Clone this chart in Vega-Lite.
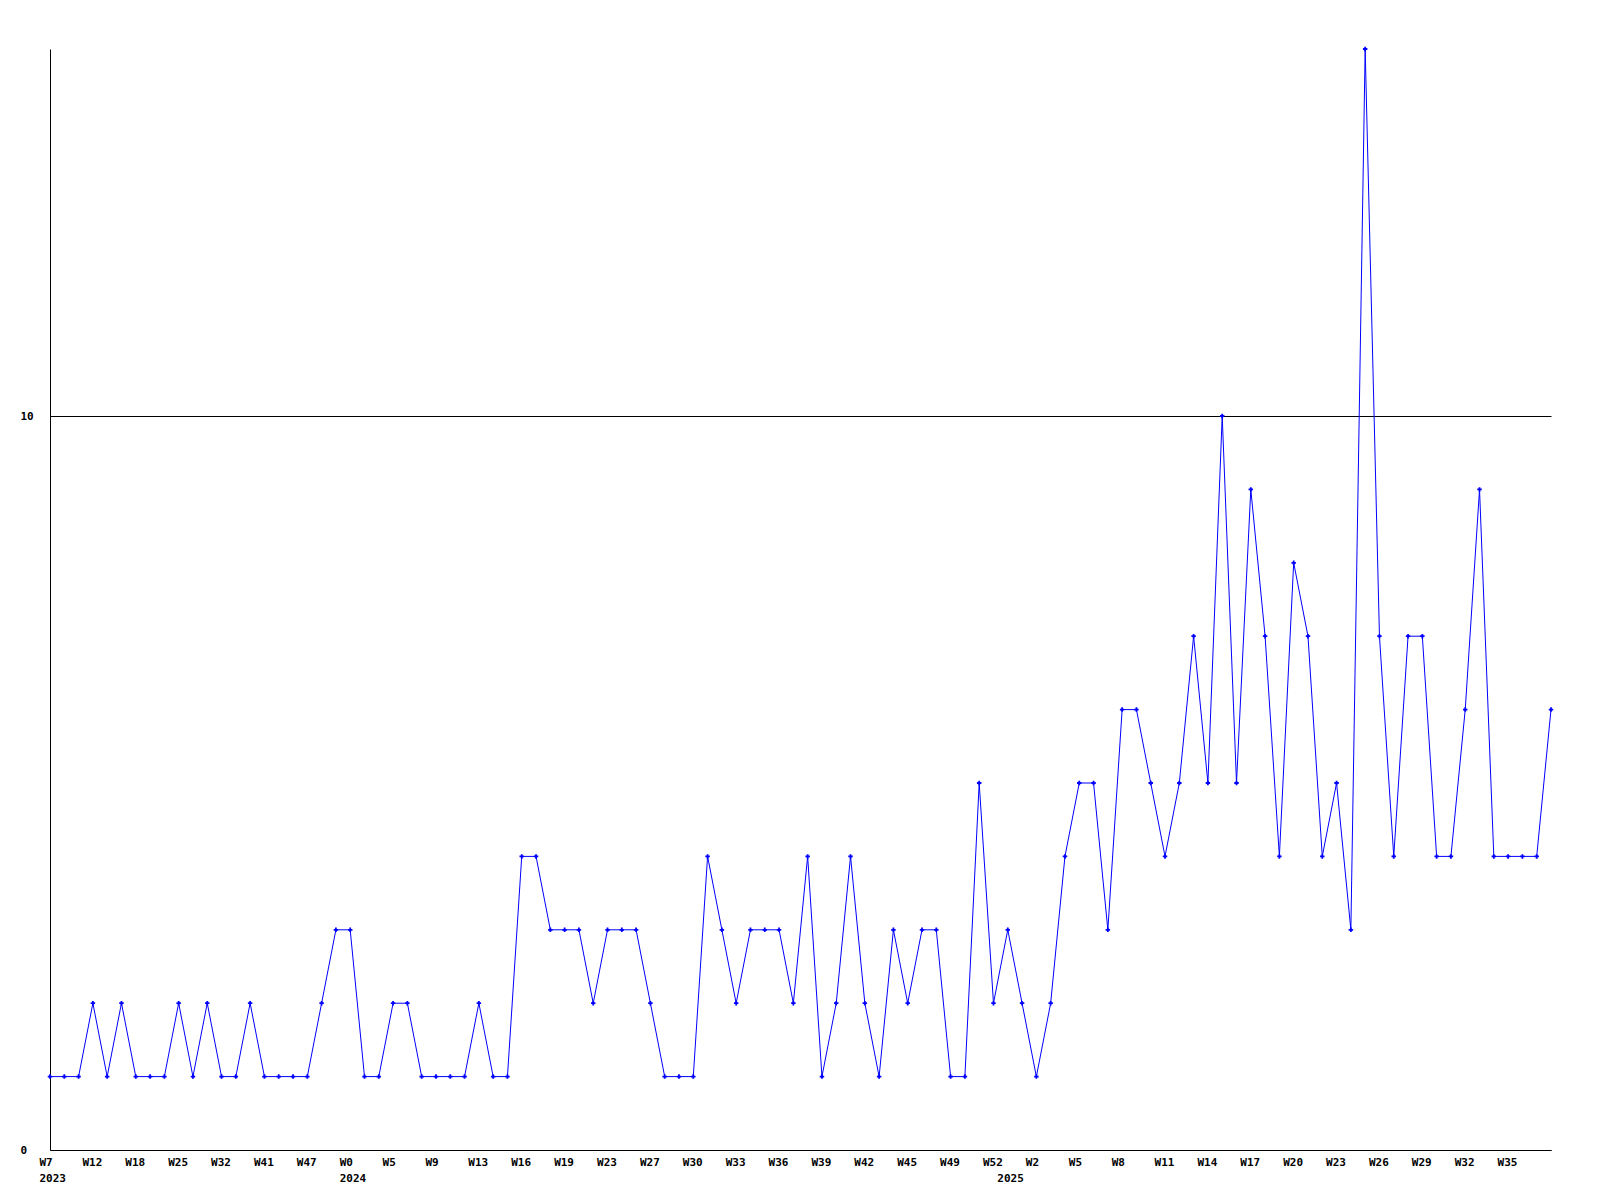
{
  "$schema": "https://vega.github.io/schema/vega-lite/v6.json",
  "width": 1501,
  "height": 1101,
  "autosize": {"type": "none"},
  "padding": {"left": 50, "top": 49, "right": 49, "bottom": 50},
  "background": "white",
  "config": {
    "view": {"stroke": null},
    "axis": {
      "labelFont": "DejaVu Sans Mono",
      "labelFontWeight": "bold",
      "labelFontSize": 11,
      "labelColor": "black",
      "domainColor": "black",
      "domainWidth": 1
    }
  },
  "data": {
    "values": [
      {"week": "2023-W07", "count": 1},
      {"week": "2023-W09", "count": 1},
      {"week": "2023-W10", "count": 1},
      {"week": "2023-W12", "count": 2},
      {"week": "2023-W14", "count": 1},
      {"week": "2023-W16", "count": 2},
      {"week": "2023-W18", "count": 1},
      {"week": "2023-W20", "count": 1},
      {"week": "2023-W22", "count": 1},
      {"week": "2023-W25", "count": 2},
      {"week": "2023-W27", "count": 1},
      {"week": "2023-W29", "count": 2},
      {"week": "2023-W32", "count": 1},
      {"week": "2023-W35", "count": 1},
      {"week": "2023-W38", "count": 2},
      {"week": "2023-W41", "count": 1},
      {"week": "2023-W43", "count": 1},
      {"week": "2023-W45", "count": 1},
      {"week": "2023-W47", "count": 1},
      {"week": "2023-W49", "count": 2},
      {"week": "2023-W51", "count": 3},
      {"week": "2024-W00", "count": 3},
      {"week": "2024-W02", "count": 1},
      {"week": "2024-W03", "count": 1},
      {"week": "2024-W05", "count": 2},
      {"week": "2024-W06", "count": 2},
      {"week": "2024-W08", "count": 1},
      {"week": "2024-W09", "count": 1},
      {"week": "2024-W11", "count": 1},
      {"week": "2024-W12", "count": 1},
      {"week": "2024-W13", "count": 2},
      {"week": "2024-W14", "count": 1},
      {"week": "2024-W15", "count": 1},
      {"week": "2024-W16", "count": 4},
      {"week": "2024-W17", "count": 4},
      {"week": "2024-W18", "count": 3},
      {"week": "2024-W19", "count": 3},
      {"week": "2024-W20", "count": 3},
      {"week": "2024-W22", "count": 2},
      {"week": "2024-W23", "count": 3},
      {"week": "2024-W25", "count": 3},
      {"week": "2024-W26", "count": 3},
      {"week": "2024-W27", "count": 2},
      {"week": "2024-W28", "count": 1},
      {"week": "2024-W29", "count": 1},
      {"week": "2024-W30", "count": 1},
      {"week": "2024-W31", "count": 4},
      {"week": "2024-W32", "count": 3},
      {"week": "2024-W33", "count": 2},
      {"week": "2024-W34", "count": 3},
      {"week": "2024-W35", "count": 3},
      {"week": "2024-W36", "count": 3},
      {"week": "2024-W37", "count": 2},
      {"week": "2024-W38", "count": 4},
      {"week": "2024-W39", "count": 1},
      {"week": "2024-W40", "count": 2},
      {"week": "2024-W41", "count": 4},
      {"week": "2024-W42", "count": 2},
      {"week": "2024-W43", "count": 1},
      {"week": "2024-W44", "count": 3},
      {"week": "2024-W45", "count": 2},
      {"week": "2024-W47", "count": 3},
      {"week": "2024-W48", "count": 3},
      {"week": "2024-W49", "count": 1},
      {"week": "2024-W50", "count": 1},
      {"week": "2024-W51", "count": 5},
      {"week": "2024-W52", "count": 2},
      {"week": "2025-W00", "count": 3},
      {"week": "2025-W01", "count": 2},
      {"week": "2025-W02", "count": 1},
      {"week": "2025-W03", "count": 2},
      {"week": "2025-W04", "count": 4},
      {"week": "2025-W05", "count": 5},
      {"week": "2025-W06", "count": 5},
      {"week": "2025-W07", "count": 3},
      {"week": "2025-W08", "count": 6},
      {"week": "2025-W09", "count": 6},
      {"week": "2025-W10", "count": 5},
      {"week": "2025-W11", "count": 4},
      {"week": "2025-W12", "count": 5},
      {"week": "2025-W13", "count": 7},
      {"week": "2025-W14", "count": 5},
      {"week": "2025-W15", "count": 10},
      {"week": "2025-W16", "count": 5},
      {"week": "2025-W17", "count": 9},
      {"week": "2025-W18", "count": 7},
      {"week": "2025-W19", "count": 4},
      {"week": "2025-W20", "count": 8},
      {"week": "2025-W21", "count": 7},
      {"week": "2025-W22", "count": 4},
      {"week": "2025-W23", "count": 5},
      {"week": "2025-W24", "count": 3},
      {"week": "2025-W25", "count": 15},
      {"week": "2025-W26", "count": 7},
      {"week": "2025-W27", "count": 4},
      {"week": "2025-W28", "count": 7},
      {"week": "2025-W29", "count": 7},
      {"week": "2025-W30", "count": 4},
      {"week": "2025-W31", "count": 4},
      {"week": "2025-W32", "count": 6},
      {"week": "2025-W33", "count": 9},
      {"week": "2025-W34", "count": 4},
      {"week": "2025-W35", "count": 4},
      {"week": "2025-W36", "count": 4},
      {"week": "2025-W37", "count": 4},
      {"week": "2025-W38", "count": 6}
    ]
  },
  "encoding": {
    "x": {
      "field": "week",
      "type": "ordinal",
      "sort": null,
      "scale": {"type": "point", "padding": 0},
      "axis": {
        "title": null,
        "values": ["2023-W07", "2023-W12", "2023-W18", "2023-W25", "2023-W32", "2023-W41", "2023-W47", "2024-W00", "2024-W05", "2024-W09", "2024-W13", "2024-W16", "2024-W19", "2024-W23", "2024-W27", "2024-W30", "2024-W33", "2024-W36", "2024-W39", "2024-W42", "2024-W45", "2024-W49", "2024-W52", "2025-W00", "2025-W02", "2025-W05", "2025-W08", "2025-W11", "2025-W14", "2025-W17", "2025-W20", "2025-W23", "2025-W26", "2025-W29", "2025-W32", "2025-W35"],
        "labelExpr": "datum.value == '2025-W00' ? [' ', '2025'] : (datum.value == '2023-W07' || datum.value == '2024-W00') ? ['W' + toNumber(substring(datum.value, 6)), substring(datum.value, 0, 4)] : 'W' + toNumber(substring(datum.value, 6))",
        "labelAlign": "left",
        "labelOffset": -11,
        "labelBaseline": "top",
        "labelPadding": 6,
        "labelLineHeight": 16,
        "labelAngle": 0,
        "ticks": false,
        "tickSize": 0,
        "grid": false,
        "labelOverlap": false,
        "labelBound": false,
        "labelFlush": false
      }
    },
    "y": {
      "field": "count",
      "type": "quantitative",
      "scale": {"domain": [0, 15], "nice": false, "zero": true},
      "axis": {
        "title": null,
        "values": [0, 10],
        "grid": true,
        "gridColor": "black",
        "gridOpacity": 1,
        "gridWidth": 1,
        "ticks": false,
        "tickSize": 0,
        "labelAlign": "left",
        "labelPadding": 30,
        "labelBaseline": "middle"
      }
    }
  },
  "layer": [
    {"mark": {"type": "line", "color": "#0000ff", "strokeWidth": 1}},
    {"mark": {"type": "point", "shape": "cross", "filled": true, "color": "#0000ff", "size": 20, "opacity": 1}}
  ]
}
